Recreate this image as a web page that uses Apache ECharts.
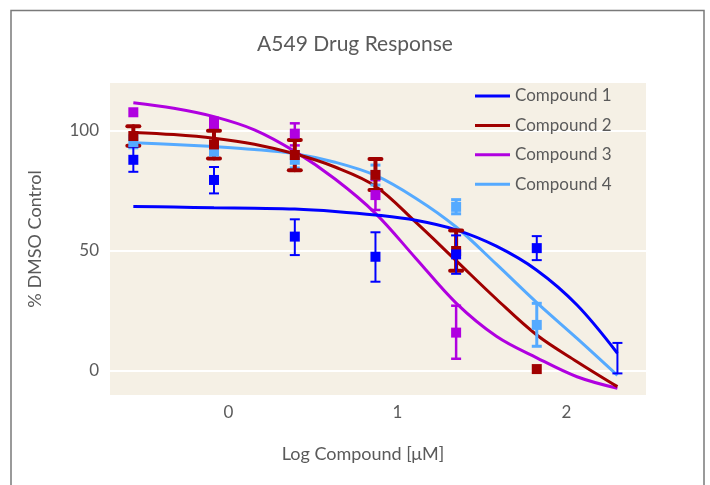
<!DOCTYPE html>
<html>
<head>
<meta charset="utf-8">
<script src="https://cdn.jsdelivr.net/npm/echarts@6/dist/echarts.min.js"></script>
<style>
  html, body { margin: 0; padding: 0; background: #ffffff; }
  #chart { width: 710px; height: 485px; }
</style>
</head>
<body>
<div id="chart"></div>
<script>
// ---- Data ----
const seriesNames = ['Compound 1', 'Compound 2', 'Compound 3', 'Compound 4'];
const xTickLabels = [0, 1, 2];
const yTickLabels = [0, 50, 100];

// Log concentration of measured points
const pointX = [-0.562, -0.085, 0.393, 0.870, 1.347, 1.824, 2.301];

// Compound 1 (mean, lower, upper)
const c1Mean = [88.0, 79.6, 56.0, 47.6, 48.6, 51.2, null];
const c1Lo   = [83.0, 74.0, 48.3, 37.2, 40.5, 46.2, -1.0];
const c1Hi   = [93.5, 85.0, 63.2, 57.8, 56.5, 56.2, 11.7];
// Compound 2
const c2Mean = [97.9, 94.4, 90.0, 81.7, 50.0, 0.8, null];
const c2Lo   = [93.9, 88.5, 83.6, 75.4, 41.8, null, null];
const c2Hi   = [102.0, 100.1, 96.2, 88.3, 58.5, null, null];
// Compound 3
const c3Mean = [107.8, 103.2, 98.9, 73.3, 16.0, null, null];
const c3Lo   = [null, 101.0, 94.0, 67.1, 5.1, null, null];
const c3Hi   = [null, 105.5, 103.2, 79.5, 27.2, null, null];
// Compound 4
const c4Mean = [95.4, 91.4, 88.0, 81.7, 68.4, 19.2, null];
const c4Lo   = [93.0, 88.5, 84.6, 77.5, 65.5, 10.3, null];
const c4Hi   = [98.0, 94.0, 91.5, 85.8, 71.4, 28.2, null];

// Fitted curves at these log concentrations
const fitX  = [-0.562, -0.323, -0.085, 0.154, 0.393, 0.631, 0.870, 1.108, 1.347, 1.585, 1.824, 2.062, 2.301];
const c1Fit = [68.5, 68.3, 68.0, 67.8, 67.5, 66.5, 65.0, 62.8, 58.8, 52.0, 42.0, 27.5, 7.4];
const c2Fit = [99.4, 98.5, 97.0, 94.5, 90.5, 85.0, 77.0, 62.0, 46.0, 30.0, 15.0, 3.9, -6.5];
const c3Fit = [111.8, 109.5, 106.0, 100.5, 91.5, 80.0, 65.7, 47.0, 28.3, 14.5, 5.5, -2.4, -7.2];
const c4Fit = [95.1, 94.4, 93.5, 92.3, 90.5, 87.0, 81.5, 72.0, 60.0, 44.5, 28.5, 13.6, -1.8];

// ---- Styles ----
const colors = ['#0000ff', '#a00000', '#b000e0', '#55aaff'];
const barStyle = [
  { w: 2, cap: 10, round: false },
  { w: 4, cap: 12, round: true },
  { w: 2.5, cap: 10, round: false },
  { w: 3, cap: 10, round: false }
];
const textColor = '#5a5a5a';
const font = 'Lato';

const means = [c1Mean, c2Mean, c3Mean, c4Mean];
const los = [c1Lo, c2Lo, c3Lo, c4Lo];
const his = [c1Hi, c2Hi, c3Hi, c4Hi];
const fits = [c1Fit, c2Fit, c3Fit, c4Fit];

function pairs(xs, ys) {
  const out = [];
  xs.forEach((x, i) => { if (ys[i] !== null) out.push([x, ys[i]]); });
  return out;
}
function bars(xs, lo, hi) {
  const out = [];
  xs.forEach((x, i) => { if (lo[i] !== null && hi[i] !== null) out.push([x, lo[i], hi[i]]); });
  return out;
}

function makeErrorRender(k) {
  const st = barStyle[k];
  return function (params, api) {
    const x = api.value(0), lo = api.value(1), hi = api.value(2);
    const pL = api.coord([x, lo]);
    const pH = api.coord([x, hi]);
    const hw = st.cap / 2;
    const style = { stroke: colors[k], lineWidth: st.w, lineCap: st.round ? 'round' : 'butt' };
    return {
      type: 'group',
      children: [
        { type: 'line', shape: { x1: pL[0], y1: pL[1], x2: pH[0], y2: pH[1] }, style: style },
        { type: 'line', shape: { x1: pH[0] - hw, y1: pH[1], x2: pH[0] + hw, y2: pH[1] }, style: style },
        { type: 'line', shape: { x1: pL[0] - hw, y1: pL[1], x2: pL[0] + hw, y2: pL[1] }, style: style }
      ]
    };
  };
}

const series = [];
// gridlines
series.push({
  name: 'grid', type: 'line', data: [], z: 1, silent: true,
  markLine: {
    silent: true, z: 1, symbol: ['none', 'none'], label: { show: false },
    lineStyle: { color: '#ffffff', width: 2, type: 'solid' },
    animation: false,
    data: yTickLabels.map(v => ({ yAxis: v }))
  }
});
// draw order: compound 4 at the bottom, compound 1 on top
[3, 2, 1, 0].forEach(k => {
  series.push({
    name: seriesNames[k], type: 'line', smooth: 0.35, showSymbol: false, symbol: 'none',
    data: pairs(fitX, fits[k]), z: 3,
    lineStyle: { color: colors[k], width: 3 },
    itemStyle: { color: colors[k] }
  });
});
[3, 2, 1, 0].forEach(k => {
  series.push({
    name: seriesNames[k] + ' error', type: 'custom', z: 4,
    renderItem: makeErrorRender(k),
    data: bars(pointX, los[k], his[k]),
    encode: { x: 0, y: [1, 2] }
  });
  series.push({
    name: seriesNames[k] + ' data', type: 'scatter', symbol: 'rect', symbolSize: 10, z: 5,
    data: pairs(pointX, means[k]),
    itemStyle: { color: colors[k], opacity: 1 }
  });
});

const chart = echarts.init(document.getElementById('chart'), null, { renderer: 'canvas' });
chart.setOption({
  animation: false,
  backgroundColor: '#ffffff',
  title: {
    text: 'A549 Drug Response', left: 'center', top: 29,
    padding: [5, 0, 5, 12],
    textStyle: { fontFamily: font, fontSize: 21, fontWeight: 'normal', color: textColor }
  },
  graphic: [{
    type: 'rect', silent: true, z: -1,
    shape: { x: 11, y: 10.5, width: 693, height: 520 },
    style: { fill: 'none', stroke: '#7a7a7a', lineWidth: 1.5 }
  }],
  legend: {
    data: seriesNames, orient: 'vertical', left: 475, top: 87, padding: 0, z: 6,
    icon: 'rect', itemWidth: 35, itemHeight: 3, itemGap: 11.4,
    textStyle: { fontFamily: font, fontSize: 17, color: textColor, lineHeight: 18 }
  },
  grid: {
    left: 110, right: 64, top: 83, bottom: 90,
    show: true, backgroundColor: '#f5f0e5', borderWidth: 0
  },
  xAxis: {
    type: 'value', min: -0.7, max: 2.47,
    name: 'Log Compound [μM]', nameLocation: 'middle', nameGap: 50,
    nameTextStyle: { fontFamily: font, fontSize: 18, color: textColor, padding: [0, 30, 0, 0] },
    axisLine: { show: false }, axisTick: { show: false }, splitLine: { show: false },
    axisLabel: { customValues: xTickLabels, fontFamily: font, fontSize: 17, color: textColor, margin: 9 }
  },
  yAxis: {
    type: 'value', min: -10, max: 120,
    name: '% DMSO Control', nameLocation: 'middle', nameGap: 66,
    nameTextStyle: { fontFamily: font, fontSize: 18, color: textColor },
    axisLine: { show: false }, axisTick: { show: false }, splitLine: { show: false },
    axisLabel: { customValues: yTickLabels, fontFamily: font, fontSize: 17, color: textColor, margin: 11 }
  },
  series: series
});
</script>
</body>
</html>
